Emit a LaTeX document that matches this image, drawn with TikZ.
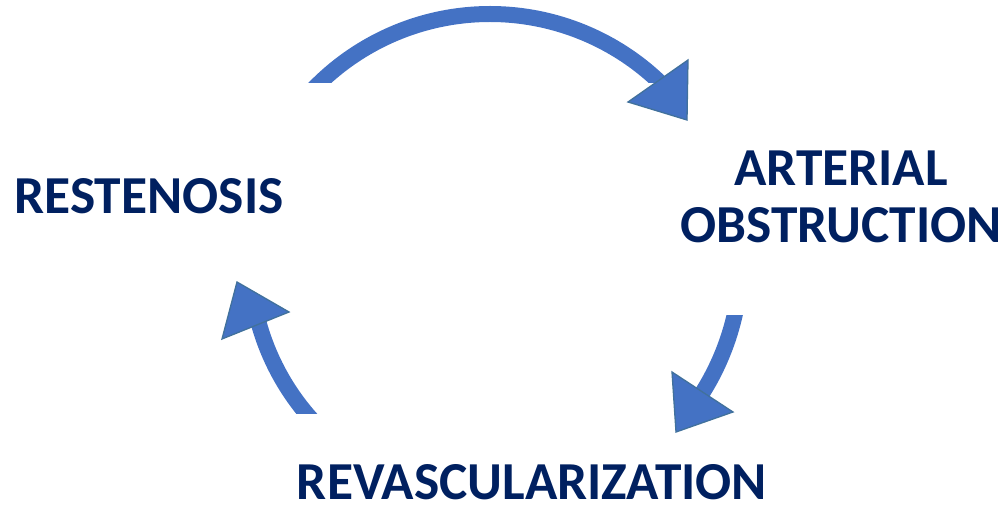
\documentclass[tikz,border=0pt]{standalone}
\usepackage{fontspec}
\setmainfont{Carlito}
\definecolor{navy}{HTML}{002060}
\definecolor{arrowblue}{HTML}{4472C4}
\definecolor{headedge}{HTML}{41719C}
\begin{document}
\begin{tikzpicture}[x=1pt,y=-1pt,
  lbl/.style={font=\fontsize{53.4}{57}\selectfont\bfseries, text=navy, inner sep=0pt},
  lbltwo/.style={lbl, align=center},
  band/.style={draw=arrowblue, line width=16pt, line cap=butt},
  head/.style={fill=arrowblue, draw=headedge, line width=1.3pt, line join=miter}]
\useasboundingbox (0,0) rectangle (1007,505);
\coordinate (c) at (490,259);
% text nodes
\node[lbl, anchor=base] (rest) at (149,214) {RESTENOSIS};
\node[lbltwo, anchor=center] (art) at (841,197) {ARTERIAL\\OBSTRUCTION};
\node[lbl, anchor=base] (revasc) at (532,499) {REVASCULARIZATION};
% top arc: restenosis -> arterial obstruction
\begin{scope}
  \clip (0,0) rectangle (1007,83);
  \draw[band] (c) ++(-150:245) arc[start angle=-150, end angle=-45, radius=245];
\end{scope}
\coordinate (h1a) at (628,102);
\coordinate (h1b) at (688,60);
\coordinate (h1c) at (687,120);
\draw[head] (h1a) -- (h1b) -- (h1c) -- cycle;
% right arc: arterial obstruction -> revascularization
\begin{scope}
  \clip (0,315) rectangle (1007,505);
  \draw[band] (c) ++(5:251) arc[start angle=5, end angle=34, radius=251];
\end{scope}
\coordinate (h2a) at (672,372);
\coordinate (h2b) at (733,412);
\coordinate (h2c) at (676,432);
\draw[head] (h2a) -- (h2b) -- (h2c) -- cycle;
% left arc: revascularization -> restenosis
\begin{scope}
  \clip (0,0) rectangle (1007,413);
  \draw[band] (c) ++(130:240) arc[start angle=130, end angle=166, radius=240];
\end{scope}
\coordinate (h3a) at (237,282);
\coordinate (h3b) at (289,312);
\coordinate (h3c) at (222,339);
\draw[head] (h3a) -- (h3b) -- (h3c) -- cycle;
\end{tikzpicture}
\end{document}
